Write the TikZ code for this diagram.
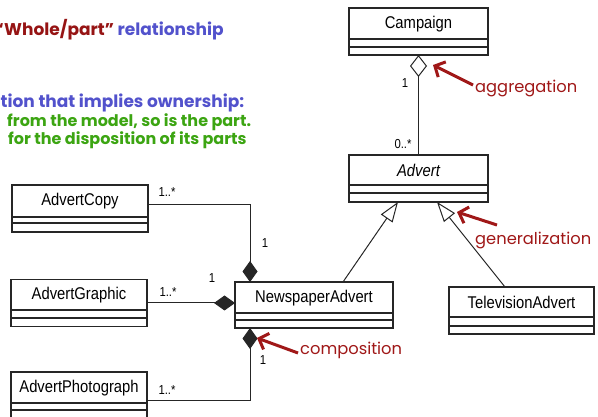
\documentclass[tikz,border=0pt]{standalone}
\usepackage{fontspec}
\setmainfont{Liberation Sans}
\newfontfamily\umlfont[FakeStretch=0.87]{Liberation Sans}
\newfontfamily\notefont{Poppins}
\usetikzlibrary{arrows.meta}

\definecolor{notered}{RGB}{160,24,24}
\definecolor{titlered}{RGB}{150,20,20}
\definecolor{noteblue}{RGB}{82,82,204}
\definecolor{notegreen}{RGB}{60,165,18}

% class box: name, x1, y1, x2, y2, separator 1, separator 2, label
\newcommand\umlclass[8]{%
  \node[classbox, minimum width={(#4-#2)*1pt}, minimum height={(#5-#3)*1pt}] (#1) at (#2,#3) {};
  \draw[classline] (#2,#6) -- (#4,#6);
  \draw[classline] (#2,#7) -- (#4,#7);
  \node[classname] at ({(#2+#4)/2},{(#3+#6)/2+0.5}) {#8};
}

\begin{document}
\begin{tikzpicture}[x=1pt,y=-1pt,
  classbox/.style={draw=black!85, line width=1.1pt, inner sep=0pt, outer sep=0pt, anchor=north west},
  classline/.style={draw=black!85, line width=1.1pt},
  classname/.style={font=\umlfont\fontsize{17}{20}\selectfont, inner sep=0pt},
  mult/.style={font=\umlfont\fontsize{13}{15}\selectfont, inner sep=0pt},
  link/.style={draw=black!85, line width=1pt},
  aggr/.style={link, {Diamond[open,length=22pt,width=17pt]}-},
  comp/.style={link, -{Diamond[length=21pt,width=15pt]}},
  gen/.style={link, -{Triangle[open,length=20pt,width=14pt]}},
  notearrow/.style={draw=notered, line width=3pt, -{Straight Barb[length=8pt,width=17pt]}},
  notelabel/.style={font=\notefont\fontsize{16.3}{19}\selectfont, text=notered, inner sep=0pt, anchor=base west},
  headline/.style={font=\notefont\bfseries\fontsize{17}{20}\selectfont, inner sep=0pt, anchor=base west},
  subline/.style={font=\notefont\bfseries\fontsize{16}{19}\selectfont, text=notegreen, inner sep=0pt, anchor=base west}]

\useasboundingbox (0,0) rectangle (598,417);
\clip (0,0) rectangle (598,417);
\fill[white] (0,0) rectangle (598,417);

% heading and explanatory lines
\node[headline, text=titlered, anchor=base east] (q) at (4,36) {“};
\node[headline] (t1) at (4,36) {\textcolor{titlered}{Whole/part”} \textcolor{noteblue}{relationship}};
\node[headline, text=noteblue] (t2) at (0.5,108) {tion that implies ownership:};
\node[subline] (t3) at (7,127) {from the model, so is the part.};
\node[subline] (t4) at (8,145) {for the disposition of its parts};

% classes
\umlclass{camp}{349}{8}{488}{55}{39}{47}{Campaign}
\umlclass{advert}{349}{155}{488}{202}{185}{193}{\itshape Advert}
\umlclass{news}{235}{282}{393}{328}{313}{320}{NewspaperAdvert}
\umlclass{tv}{449}{287}{594}{334}{317}{326}{TelevisionAdvert}
\umlclass{copy}{12}{185}{148}{232}{217}{223}{AdvertCopy}
\umlclass{graphic}{11}{279.5}{147}{326.5}{310}{318}{AdvertGraphic}
\umlclass{photo}{11}{372}{147}{440}{403}{410}{AdvertPhotograph}

% aggregation
\draw[aggr] (camp.south) -- (camp.south |- advert.north);
\node[mult] at (405,83) {1};
\node[mult] at (403,144) {0..*};

% generalization
\draw[gen] ([xshift=108pt]news.north west) -- ([xshift=49pt]advert.south west);
\draw[gen] ([xshift=56pt]tv.north west) -- ([xshift=88pt]advert.south west);

% composition
\draw[comp] ([yshift=3.5pt]copy.east) -| ([xshift=15pt]news.north west);
\draw[comp] (graphic.east) -- (graphic.east -| news.west);
\draw[comp] ([yshift=6pt]photo.east) -| ([xshift=15pt]news.south west);
\node[mult] at (167,192) {1..*};
\node[mult] at (265,243) {1};
\node[mult] at (168,292) {1..*};
\node[mult] at (212,278) {1};
\node[mult] at (167,390) {1..*};
\node[mult] at (263,360) {1};

% annotations
\node[notelabel] (agg) at (475,93) {aggregation};
\node[notelabel] (gl) at (475,245) {generalization};
\node[notelabel] (cl) at (300,355) {composition};
\coordinate (aggtip) at (433,65);
\coordinate (gentip) at (457,212);
\coordinate (comptip) at (257,338);
\draw[notearrow] ([shift={(-2pt,8pt)}]agg.base west) -- (aggtip);
\draw[notearrow] ([shift={(22pt,20pt)}]gl.base west) -- (gentip);
\draw[notearrow] ([shift={(-2pt,2pt)}]cl.base west) -- (comptip);
\end{tikzpicture}
\end{document}
